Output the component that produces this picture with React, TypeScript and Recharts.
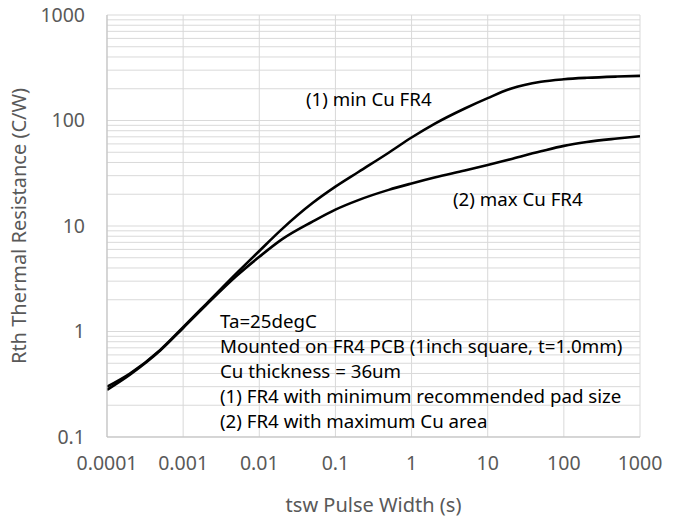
import { CartesianGrid, Line, LineChart, ReferenceDot, XAxis, YAxis } from 'recharts';

// pulse width (s)
const pulseWidth = [
  0.0001, 0.0002, 0.0005, 0.001, 0.002, 0.005, 0.01, 0.02, 0.05, 0.1, 0.2, 0.5, 1, 2, 5, 10, 20, 50, 100, 200,
  500, 1000,
];
// (1) min Cu FR4
const minCu = [
  0.3, 0.4, 0.67, 1.1, 1.82, 3.55, 5.8, 9.4, 16.5, 23.6, 32.5, 49.5, 69, 93, 130, 163, 200, 233, 246, 254, 261,
  265,
];
// (2) max Cu FR4
const maxCu = [
  0.28, 0.39, 0.66, 1.08, 1.78, 3.35, 5.1, 7.5, 11.0, 14.3, 17.6, 22.0, 25.3, 28.8, 33.5, 37.8, 43, 51, 57.5,
  62.5, 67.5, 71,
];

const xTicks = [0.0001, 0.001, 0.01, 0.1, 1, 10, 100, 1000];
const yDecades = [0.1, 1, 10, 100, 1000];
const yGridTicks = [0.1, 0.2, 0.3, 0.4, 0.5, 0.6, 0.7, 0.8, 0.9, 1, 2, 3, 4, 5, 6, 7, 8, 9, 10, 20, 30, 40, 50, 60, 70, 80, 90, 100, 200, 300, 400, 500, 600, 700, 800, 900, 1000];

const curveLabels = [
  { x: 0.041, y: 163, text: '(1) min Cu FR4' },
  { x: 3.5, y: 18.4, text: '(2) max Cu FR4' },
];
const noteAnchor = { x: 0.00305, y: 1.26 };
const noteLines = [
  'Ta=25degC',
  'Mounted on FR4 PCB (1inch square, t=1.0mm)',
  'Cu thickness = 36um',
  '(1) FR4 with minimum recommended pad size',
  '(2) FR4 with maximum Cu area',
];

const data = pulseWidth.map((t, i) => ({ t, minCu: minCu[i], maxCu: maxCu[i] }));

const FONT = '"Noto Sans", "Open Sans", sans-serif';
const fmt = (v: number) => (yDecades.includes(v) ? String(v) : '');

export default function App() {
  return (
    <div style={{ position: 'absolute', left: 0, top: 0, width: 676, height: 517, background: '#fff' }}>
      <LineChart width={676} height={517} data={data} margin={{ top: 15, right: 36, bottom: 50, left: 47 }} style={{ fontFamily: FONT }}>
        <CartesianGrid stroke="#d9d9d9" vertical horizontal />
        <XAxis
          dataKey="t"
          type="number"
          scale="log"
          domain={[0.0001, 1000]}
          ticks={xTicks}
          allowDataOverflow
          tickFormatter={(v: number) => String(v)}
          stroke="#bfbfbf"
          tickLine={false}
          tickSize={0}
          tickMargin={19}
          height={30}
          tick={{ fill: '#595959', fontSize: 19.5, fontFamily: FONT }}
          label={({ viewBox }: any) => (
            <text x={viewBox.x + viewBox.width / 2} y={512} textAnchor="middle" fill="#595959" fontSize={20} fontFamily={FONT}>
              tsw Pulse Width (s)
            </text>
          )}
        />
        <YAxis
          type="number"
          scale="log"
          domain={[0.1, 1000]}
          ticks={yGridTicks}
          interval={0}
          allowDataOverflow
          tickFormatter={fmt}
          stroke="#bfbfbf"
          tickLine={false}
          tickSize={0}
          tickMargin={22}
          width={60}
          tick={{ fill: '#595959', fontSize: 19.5, fontFamily: FONT }}
          label={({ viewBox }: any) => (
            <text
              x={18}
              y={viewBox.y + viewBox.height / 2}
              transform={`rotate(-90 18 ${viewBox.y + viewBox.height / 2})`}
              textAnchor="middle"
              dominantBaseline="central"
              fill="#595959"
              fontSize={20}
              fontFamily={FONT}
            >
              Rth Thermal Resistance (C/W)
            </text>
          )}
        />
        <Line dataKey="minCu" type="monotone" stroke="#000" strokeWidth={2.6} dot={false} isAnimationActive={false} />
        <Line dataKey="maxCu" type="monotone" stroke="#000" strokeWidth={2.6} dot={false} isAnimationActive={false} />
        {curveLabels.map((c) => (
          <ReferenceDot
            key={c.text}
            x={c.x}
            y={c.y}
            r={0}
            fill="none"
            stroke="none"
            label={({ viewBox }: any) => (
              <text x={viewBox.x} y={viewBox.y} dominantBaseline="central" fill="#000" fontSize={18.7} fontFamily={FONT}>
                {c.text}
              </text>
            )}
          />
        ))}
        <ReferenceDot
          x={noteAnchor.x}
          y={noteAnchor.y}
          r={0}
          fill="none"
          stroke="none"
          label={({ viewBox }: any) => (
            <text x={viewBox.x} y={viewBox.y} fill="#000" fontSize={18.7} fontFamily={FONT}>
              {noteLines.map((line, i) => (
                <tspan key={i} x={viewBox.x} y={viewBox.y + i * 25} dominantBaseline="central">
                  {line}
                </tspan>
              ))}
            </text>
          )}
        />
      </LineChart>
    </div>
  );
}
